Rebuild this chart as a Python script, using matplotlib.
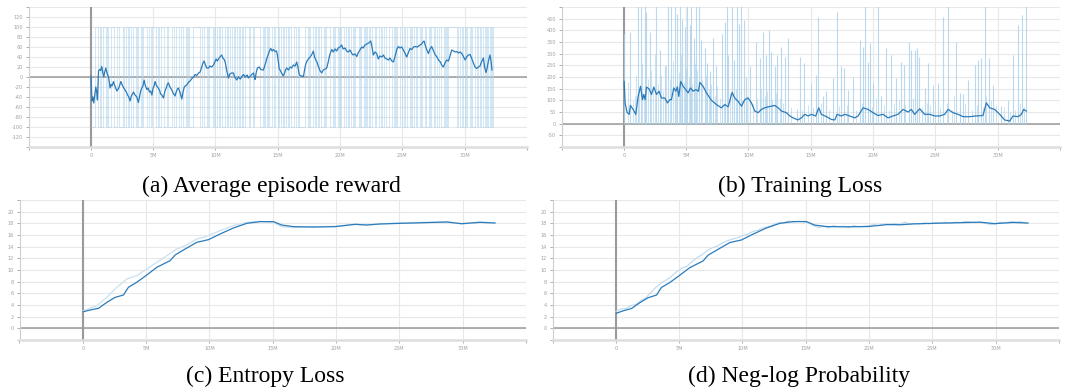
import numpy as np
import matplotlib.pyplot as plt

# ---- (a) average episode reward (x in millions of steps) ----
reward_x = [0.02, 0.06, 0.1, 0.17, 0.24, 0.32, 0.4, 0.47, 0.53, 0.57, 0.62, 0.7, 0.78, 0.88, 0.95,
            1.04, 1.1, 1.2, 1.3, 1.42, 1.5, 1.55, 1.62, 1.7, 1.82, 1.9, 2.0, 2.09, 2.2, 2.3,
            2.41, 2.5, 2.6, 2.75, 2.85, 2.95, 3.05, 3.15, 3.25, 3.35, 3.42, 3.55, 3.69, 3.82, 3.92,
            4.0, 4.09, 4.18, 4.28, 4.36, 4.49, 4.6, 4.7, 4.8, 4.9, 5.0, 5.08, 5.16, 5.25, 5.35,
            5.51, 5.6, 5.7, 5.83, 5.95, 6.05, 6.15, 6.23, 6.35, 6.5, 6.6, 6.76, 6.85, 6.95, 7.03,
            7.15, 7.3, 7.4, 7.5, 7.57, 7.7, 7.85, 7.97, 8.1, 8.25, 8.37, 8.5, 8.65, 8.77, 8.9,
            9.0, 9.09, 9.2, 9.3, 9.44, 9.55, 9.7, 9.84, 9.95, 10.05, 10.15, 10.3, 10.5, 10.6, 10.7,
            10.78, 10.9, 11.0, 11.04, 11.15, 11.3, 11.44, 11.55, 11.71, 11.85, 12.0, 12.15, 12.25,
            12.4, 12.55, 12.65, 12.8, 12.95, 13.05, 13.12, 13.18, 13.28, 13.37, 13.5, 13.65,
            13.85, 13.95, 14.05, 14.12, 14.25, 14.35, 14.44, 14.55, 14.65, 14.79, 14.9, 14.97,
            15.05, 15.12, 15.19, 15.3, 15.45, 15.55, 15.62, 15.72, 15.85, 16.0, 16.12, 16.25,
            16.4, 16.52, 16.62, 16.72, 16.79, 16.9, 17.06, 17.15, 17.25, 17.33, 17.45, 17.6,
            17.75, 17.86, 17.95, 18.05, 18.13, 18.25, 18.4, 18.53, 18.65, 18.8, 18.93, 19.05,
            19.15, 19.25, 19.33, 19.45, 19.6, 19.73, 19.85, 20.0, 20.13, 20.25, 20.4, 20.53,
            20.65, 20.8, 20.94, 21.05, 21.2, 21.34, 21.45, 21.6, 21.74, 21.85, 22.0, 22.14,
            22.3, 22.46, 22.55, 22.67, 22.8, 22.94, 23.07, 23.2, 23.35, 23.48, 23.6, 23.75,
            23.88, 24.0, 24.15, 24.28, 24.4, 24.55, 24.68, 24.8, 24.95, 25.08, 25.2, 25.35,
            25.5, 25.61, 25.75, 25.9, 26.02, 26.2, 26.42, 26.55, 26.65, 26.74, 26.85, 26.95,
            27.09, 27.2, 27.35, 27.5, 27.62, 27.75, 27.9, 28.05, 28.15, 28.29, 28.42, 28.56,
            28.7, 28.82, 28.96, 29.1, 29.25, 29.36, 29.5, 29.65, 29.76, 29.88, 30.03, 30.15,
            30.3, 30.43, 30.55, 30.7, 30.83, 30.96, 31.1, 31.23, 31.35, 31.5, 31.6, 31.71,
            31.8, 31.92, 32.03, 32.12, 32.19]
reward_smooth = [2, -30, -48, -40, -52, -35, -20, -30, -46, -20, 12, 15, 13, 21, 10,
                 0, 8, 18, 8, 0, -12, -22, -15, -18, -9, -16, -22, -28, -24, -18,
                 -9, -15, -20, -26, -30, -36, -40, -48, -38, -34, -30, -36, -40, -51, -38,
                 -28, -22, -18, -6, -16, -25, -22, -30, -28, -36, -22, -18, -9, -16, -20,
                 -26, -34, -36, -42, -28, -22, -14, -12, -20, -26, -32, -38, -30, -24, -22,
                 -30, -44, -30, -20, -18, -16, -10, -8, -3, 0, 5, 3, 8, 10, 20,
                 28, 32, 24, 18, 18, 22, 20, 24, 30, 36, 32, 38, 44, 38, 35,
                 30, 14, 2, -2, 6, 8, 8, 0, -6, 0, -4, 2, 5,
                 0, 4, -2, 2, 6, 8, 0, -5, 10, 18, 20, 15,
                 14, 22, 30, 37, 46, 53, 57, 52, 55, 51, 52, 44,
                 30, 16, 14, 8, 2, 8, 14, 18, 14, 20, 18, 24,
                 22, 30, 20, 5, 3, 2, 1, 14, 26, 31, 36, 40,
                 46, 52, 40, 34, 31, 22, 12, 8, 14, 16, 18, 30,
                 42, 50, 55, 50, 56, 52, 58, 60, 64, 56, 58, 52,
                 50, 54, 47, 44, 46, 41, 48, 54, 60, 58, 64, 66,
                 68, 72, 62, 44, 50, 47, 36, 42, 40, 44, 38, 36,
                 34, 38, 32, 30, 40, 55, 61, 58, 60, 54, 48, 40,
                 50, 57, 55, 60, 61, 60, 64, 66, 70, 72, 62, 55,
                 47, 55, 61, 52, 45, 41, 34, 30, 24, 20, 28, 34,
                 32, 42, 54, 52, 50, 51, 48, 50, 47, 42, 34, 40,
                 44, 45, 38, 28, 20, 17, 20, 22, 30, 38, 20, 9,
                 18, 34, 44, 30, 14]
# episode outcome every 0.1M steps: H = +100, L = -100
reward_raw = ("LLLHHHLHLL" "HHLHLLHHHL" "LHHLLLHLHH" "LHLLHHLHLL" "HLHHHLLHLH"
              "HHLLHLHHHL" "LHLLLHHLHH" "HLHHLLHLHL" "LLHHHHHHLH" "HLLHLHHHLH"
              "LHHLHLLLHL" "HHLHHLHLLH" "LHLLHHHLHH" "LHHHHHLLHL" "HLHLLHHLHH"
              "LHHLHLLHLH" "HLLHHLHLLL" "LLHHLHLLHH" "LHLHHLLHLH" "HHLLHLHHLH"
              "LHHLLHLHHL" "HLHHHLHLLH" "LHLHLLHHLH" "HLLHLHHLLH" "HHLHLHLLHH"
              "LHLLHHLHLH" "HLHHLHLLHL" "LHLHHLHHLH" "HLLHLHLHHH" "HHHHLHLLHL"
              "HLHHLHLLHH" "LHLHHLHLHL" "HLHL")

# ---- (b) training loss ----
loss_x = [0.03, 0.1, 0.27, 0.43, 0.53, 0.75, 0.96, 1.15, 1.34, 1.5, 1.6, 1.71, 1.82, 2.03, 2.22,
          2.41, 2.62, 2.83, 3.02, 3.29, 3.5, 3.69, 3.82, 4.01, 4.17, 4.3, 4.41, 4.57, 4.76, 4.97,
          5.16, 5.35, 5.56, 5.78, 5.99, 6.1, 6.36, 6.63, 7.03, 7.43, 7.83, 8.1, 8.37, 8.69, 8.9,
          9.17, 9.44, 9.71, 9.97, 10.24, 10.51, 10.78, 11.04, 11.31, 11.58, 11.84, 12.11, 12.38,
          12.65, 13.05, 13.32, 13.58, 13.98, 14.25, 14.52, 14.79, 15.05, 15.4, 15.64, 15.85,
          16.26, 16.66, 16.93, 17.11, 17.46, 17.73, 18.13, 18.53, 18.8, 19.2, 19.6, 20.0, 20.4,
          20.8, 21.2, 21.6, 22.0, 22.41, 22.81, 23.07, 23.34, 23.74, 24.14, 24.55, 24.95, 25.35,
          25.75, 26.02, 26.42, 26.82, 27.22, 27.75, 28.29, 28.82, 29.09, 29.36, 29.76, 30.16,
          30.56, 30.96, 31.23, 31.63, 31.9, 32.09, 32.3]
loss_smooth = [181, 89, 47, 40, 78, 61, 40, 117, 160, 103, 125, 103, 157, 149, 125,
               157, 125, 139, 110, 110, 89, 103, 103, 153, 139, 157, 117, 181, 160, 146,
               132, 153, 139, 146, 139, 177, 160, 132, 100, 82, 68, 82, 72, 134, 110,
               96, 75, 103, 110, 89, 54, 47, 61, 68, 72, 75, 78, 68,
               54, 47, 33, 25, 16, 25, 40, 33, 40, 33, 68, 40,
               30, 18, 16, 40, 33, 40, 33, 25, 33, 68, 61, 47, 35,
               40, 25, 33, 40, 61, 50, 61, 40, 64, 40, 40, 33, 33,
               40, 61, 47, 40, 30, 30, 33, 35, 89, 68, 61, 40,
               16, 11, 33, 30, 40, 61, 54]
loss_spike_x = [0.05, 0.48, 1.15, 1.34, 1.68, 1.82, 2.09, 2.62, 2.89, 3.29, 3.56, 3.82, 4.09, 4.28,
                4.49, 4.68, 4.9, 5.08, 5.29, 5.43, 5.61, 5.83, 6.02, 6.18, 6.5, 6.68, 6.9, 7.17,
                7.38, 7.89, 8.1, 8.24, 8.37, 8.69, 8.85, 9.09, 9.25, 9.44, 9.63, 9.84, 10.1, 10.59,
                10.9, 11.18, 11.39, 11.66, 11.84, 12.11, 12.33, 12.65, 12.91, 13.18, 13.9, 14.12,
                14.44, 15.05, 15.45, 15.59, 15.99, 16.26, 16.79, 17.11, 17.46, 17.65, 18.0, 18.4,
                18.93, 19.2, 19.33, 19.6, 19.73, 20.0, 20.4, 20.67, 21.07, 21.47, 21.87, 22.27,
                22.46, 22.89, 23.07, 23.34, 23.53, 23.69, 24.14, 24.41, 24.81, 25.21, 25.61, 26.02,
                26.68, 26.95, 27.22, 27.62, 28.16, 28.42, 28.69, 28.96, 29.31, 29.63, 30.29, 30.83,
                31.23, 31.63, 31.98, 32.25]
loss_spike_h = [385, 393, 520, 520, 520, 478, 393, 520, 315, 245, 520, 520, 520, 471,
                520, 443, 415, 520, 422, 520, 365, 520, 520, 358, 323, 259, 224, 365,
                245, 386, 436, 520, 294, 520, 273, 520, 429, 520, 443, 202, 245, 351,
                280, 393, 294, 400, 308, 245, 294, 330, 287, 365, 61, 287,
                259, 174, 209, 457, 117, 139, 195, 478, 245, 238, 146, 202,
                358, 330, 520, 266, 344, 174, 520, 117, 323, 294, 195, 266,
                252, 351, 315, 315, 323, 287, 153, 259, 167, 174, 457, 520,
                351, 132, 125, 188, 252, 273, 280, 520, 280, 167, 75, 103,
                294, 422, 464, 520]
loss_small_x = [0.3, 0.7, 0.9, 1.0, 1.25, 1.45, 1.6, 1.95, 2.2, 2.35, 2.5, 2.75, 3.0, 3.15, 3.4,
                3.7, 3.95, 4.2, 4.4, 4.6, 4.8, 5.0, 5.2, 5.5, 5.7, 5.9, 6.3, 6.6, 6.8, 7.0, 7.3,
                7.5, 7.7, 8.0, 8.5, 9.0, 9.5, 9.9, 10.4, 10.7, 11.0, 11.3, 11.5, 11.9, 12.2, 12.5,
                12.8, 13.4, 14.3, 14.8, 15.2, 15.8, 16.5, 17.3, 17.9, 18.6, 19.1, 19.9, 20.2,
                20.9, 21.3, 21.7, 22.1, 22.6, 23.2, 23.9, 24.3, 24.6, 25.0, 25.4, 25.9, 26.3,
                26.5, 27.0, 27.4, 27.9, 28.3, 28.8, 29.1, 29.5, 29.9, 30.5, 31.0, 31.4, 31.8, 32.1]
loss_small_h = [180, 95, 120, 210, 140, 260, 110, 190, 230, 150, 300, 170, 210, 140, 250,
                190, 270, 160, 220, 300, 180, 240, 200, 170, 260, 230, 190, 210, 150, 170, 120,
                160, 110, 90, 130, 150, 100, 120, 90, 110, 150, 120, 140, 100, 130, 110,
                90, 70, 60, 80, 70, 90, 60, 75, 80, 60, 90, 70, 110,
                80, 60, 90, 100, 80, 110, 70, 90, 80, 100, 70, 90, 60,
                120, 70, 90, 60, 80, 70, 120, 100, 80, 70, 50, 60, 90, 70]

# ---- (c) entropy loss ----
entropy_x = [0.05, 0.58, 1.24, 1.9, 2.55, 3.21, 3.6, 4.26, 5.05, 5.84, 6.89, 7.29, 8.08, 9.0,
             9.92, 10.84, 11.89, 12.95, 14.0, 15.05, 15.71, 16.63, 18.21, 19.92, 21.5, 22.42,
             23.47, 25.05, 26.89, 28.74, 29.92, 31.37, 32.55]
entropy_smooth = [2.86, 3.14, 3.43, 4.46, 5.31, 5.71, 7.03, 7.89, 9.14, 10.46, 11.6, 12.57, 13.6,
                  14.74, 15.2, 16.17, 17.2, 18.0, 18.29, 18.29, 17.71, 17.43, 17.37, 17.43, 17.83,
                  17.71, 17.89, 18.0, 18.11, 18.23, 17.94, 18.17, 18.06]
entropy_raw_x = [0.05, 1.1, 1.9, 2.68, 3.47, 4.26, 5.05, 5.84, 6.63, 7.42, 8.21, 9.0, 9.79, 10.84,
                 11.89, 12.95, 14.0, 15.05, 15.71, 16.63, 18.21, 19.92, 21.5, 22.42, 23.47, 25.05,
                 26.89, 28.74, 29.92, 31.37, 32.55]
entropy_raw = [3.03, 3.89, 5.31, 7.03, 8.46, 9.03, 10.17, 11.31, 12.46, 13.6, 14.29, 15.31, 15.77,
               16.74, 17.6, 18.17, 18.34, 18.17, 17.43, 17.26, 17.37, 17.49, 17.83, 17.75, 17.9,
               18.05, 18.15, 18.25, 17.9, 18.2, 18.05]

# ---- (d) neg-log probability ----
neglog_x = entropy_x
neglog_smooth = [2.6, 3.0, 3.4, 4.4, 5.25, 5.7, 7.0, 7.85, 9.1, 10.4, 11.55, 12.55, 13.55,
                 14.7, 15.15, 16.15, 17.2, 18.0, 18.3, 18.3, 17.7, 17.45, 17.4, 17.45, 17.8,
                 17.75, 17.9, 18.0, 18.1, 18.2, 17.95, 18.15, 18.05]
# raw values every 0.4M steps
neglog_raw = [2.9, 3.3, 3.4, 3.9, 4.1, 4.8, 5.3, 6.2, 7.1, 7.8, 8.3, 8.9, 9.7, 10.3, 10.6, 11.4,
              12.1, 12.6, 13.3, 13.8, 14.1, 14.6, 15.0, 15.3, 15.5, 15.9, 16.1, 16.6, 16.8, 17.2,
              17.4, 17.7, 18.1, 18.0, 18.4, 18.2, 18.35, 18.3, 18.1, 17.6, 17.3, 17.5, 17.2, 17.6,
              17.4, 17.5, 17.3, 17.6, 17.4, 17.5, 17.6, 17.8, 17.6, 17.9, 17.7, 18.0, 17.8, 18.2,
              17.9, 18.0, 17.9, 18.1, 17.9, 18.1, 18.0, 18.2, 18.0, 18.2, 18.1, 18.3, 18.2, 18.1,
              18.2, 18.0, 17.8, 17.9, 18.2, 18.1, 18.3, 18.2, 18.3, 18.0]

x_ticks = [-5, 0, 5, 10, 15, 20, 25, 30, 35]
x_labels = ['', '0', '5M', '10M', '15M', '20M', '25M', '30M', '']

DARK = '#2b7bba'
LIGHT = '#a9d0ea'
W, H = 1066, 389


def panel(left, top, width, height, ylim, ystep):
    ax = fig.add_axes([left / W, (H - top - height) / H, width / W, height / H])
    ax.set_xlim(-5, 35)
    ax.set_ylim(*ylim)
    yt = np.arange(ylim[0], ylim[1] + ystep / 2, ystep)
    ax.set_yticks(yt)
    ax.set_yticklabels([''] + [f'{int(v)}' for v in yt[1:-1]] + [''])
    ax.set_xticks(x_ticks)
    ax.set_xticklabels(x_labels)
    ax.grid(color='#e8e8e8', lw=0.8)
    ax.set_axisbelow(True)
    for s in ('top', 'right'):
        ax.spines[s].set_visible(False)
    ax.spines['left'].set_color('#cfcfcf')
    ax.spines['left'].set_linewidth(0.8)
    ax.spines['bottom'].set_color('#dedede')
    ax.spines['bottom'].set_linewidth(1.8)
    ax.tick_params(labelsize=3.6, colors='#a0a0a0', length=2, width=0.6, pad=2)
    ax.axhline(0, color='#9a9a9a', lw=1.1, zorder=1)
    ax.axvline(0, color='#9a9a9a', lw=1.5, zorder=1)
    return ax


fig = plt.figure(figsize=(W / 100, H / 100), dpi=100)

# (a)
ax = panel(28.5, 7, 498.5, 140, (-140, 140), 20)
raw_vals = [100 if c == 'H' else -100 for c in reward_raw]
raw_steps = np.arange(len(raw_vals)) * 0.1
ax.plot(raw_steps, raw_vals, drawstyle='steps-post', color=LIGHT, lw=0.6, alpha=0.6, zorder=2)
ax.plot(reward_x, reward_smooth, color=DARK, lw=0.9, zorder=3)

# (b)
ax = panel(561.5, 7, 498.5, 140, (-100, 500), 50)
ax.vlines(loss_small_x, 0, loss_small_h, color=LIGHT, lw=0.7, alpha=0.6, zorder=2)
ax.vlines(loss_spike_x, 0, loss_spike_h, color=LIGHT, lw=0.8, alpha=0.8, zorder=2)
ax.plot(loss_x, loss_smooth, color=DARK, lw=0.9, zorder=3)

# (c)
ax = panel(19.5, 200, 506.5, 140, (-2, 22), 2)
ax.plot(entropy_raw_x, entropy_raw, color='#cfe3f1', lw=1.0, zorder=2)
ax.plot(entropy_x, entropy_smooth, color=DARK, lw=0.9, zorder=3)

# (d)
ax = panel(552.5, 200, 506.5, 140, (-2, 22), 2)
neglog_steps = np.arange(len(neglog_raw)) * 0.4
ax.plot(neglog_steps, neglog_raw, color='#bcd9ee', lw=0.8, zorder=2)
ax.plot(neglog_x, neglog_smooth, color=DARK, lw=0.9, zorder=3)

cap = dict(family='Liberation Serif', fontsize=17, ha='center', va='baseline')
fig.text(271 / W, (H - 192) / H, '(a) Average episode reward', **cap)
fig.text(800 / W, (H - 192) / H, '(b) Training Loss', **cap)
fig.text(265 / W, (H - 382) / H, '(c) Entropy Loss', **cap)
fig.text(799 / W, (H - 382) / H, '(d) Neg-log Probability', **cap)

fig.savefig('out.png', dpi=100)
